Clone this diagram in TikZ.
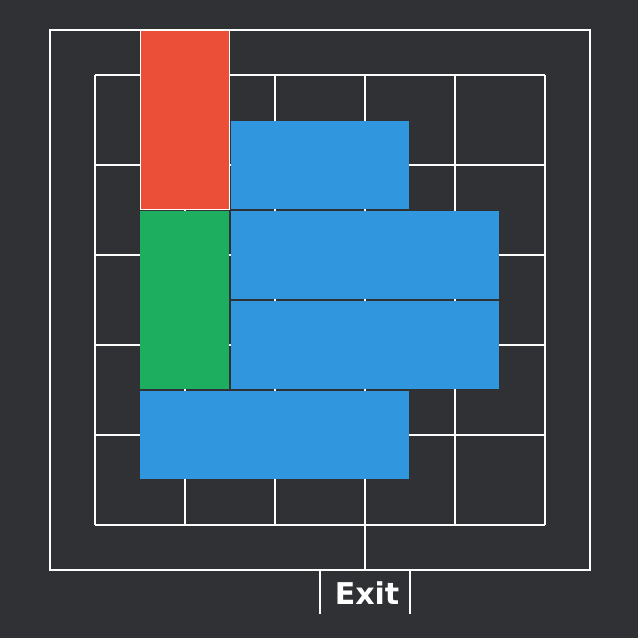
\documentclass[tikz,border=0pt]{standalone}
\usepackage{fontspec}
\newfontfamily\exitfont{DejaVu Sans}
\definecolor{bg}{HTML}{303135}
\definecolor{redb}{HTML}{EB4F37}
\definecolor{blueb}{HTML}{3096DE}
\definecolor{greenb}{HTML}{1DAE60}
\tikzset{
  gridline/.style={white, line width=2pt},
  block/.style={rectangle, inner sep=0pt, outer sep=0pt, anchor=north west},
}
\begin{document}
\begin{tikzpicture}[x=1pt,y=-1pt]
\fill[bg] (0,0) rectangle (638,638);
\useasboundingbox (0,0) rectangle (638,638);
% outer frame
\draw[gridline] (50,30) rectangle (590,570);
% inner grid
\foreach \v in {95,185,275,365,455,545} {
  \draw[gridline] (\v,75) -- (\v,525);
  \draw[gridline] (95,\v-20) -- (545,\v-20);
}
% exit connector
\draw[gridline] (365,525) -- (365,570);
\draw[gridline] (320,570) -- (320,614);
\draw[gridline] (410,570) -- (410,614);
% blocks
\node[block, fill=redb, draw=white, line width=1.2pt, minimum width=89pt, minimum height=179pt] (red) at (140.5,30.5) {};
\node[block, fill=blueb, minimum width=178pt, minimum height=88pt] (b1) at (231,121) {};
\node[block, fill=greenb, minimum width=89pt, minimum height=178.5pt] (green) at (140,210.5) {};
\node[block, fill=blueb, minimum width=268pt, minimum height=88pt] (b2) at (231,211) {};
\node[block, fill=blueb, minimum width=268pt, minimum height=88pt] (b3) at (231,301) {};
\node[block, fill=blueb, minimum width=269pt, minimum height=88pt] (b4) at (140,391) {};
\node[text=white, font=\exitfont\bfseries\fontsize{30}{30}\selectfont, inner sep=0pt] (exit) at (367,593) {Exit};
\end{tikzpicture}
\end{document}
